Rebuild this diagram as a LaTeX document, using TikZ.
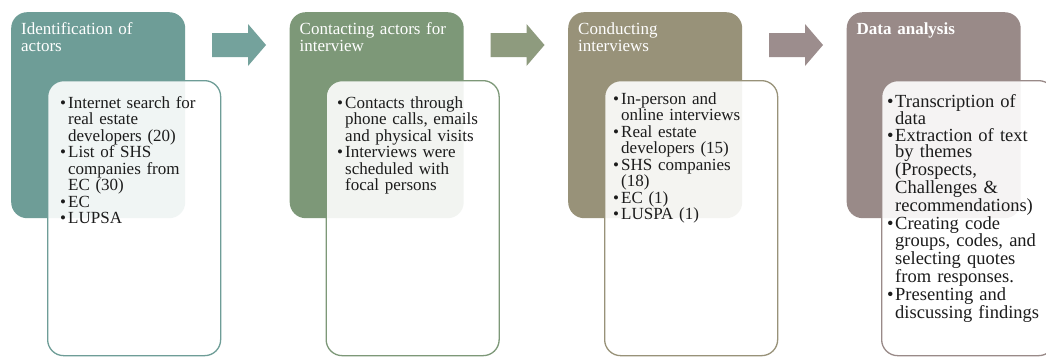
\documentclass[tikz,border=0pt]{standalone}
\usepackage{fontspec}
\setmainfont{Liberation Serif}
\definecolor{stageA}{RGB}{110,157,151}
\definecolor{stageB}{RGB}{125,152,120}
\definecolor{stageC}{RGB}{152,146,121}
\definecolor{stageD}{RGB}{153,138,136}
\definecolor{arrowA}{RGB}{116,162,156}
\definecolor{arrowB}{RGB}{142,155,126}
\definecolor{arrowC}{RGB}{156,141,141}
\definecolor{ink}{RGB}{28,28,28}
% bullet with hanging continuation lines
\newcommand\itm{\makebox[8pt][l]{\textbullet}}
\newcommand\nl{\\\hspace*{8pt}}
\begin{document}
\begin{tikzpicture}[x=1pt,y=-1pt,
  stage/.style={fill=#1, draw=none, rounded corners=16pt, inner sep=0pt,
    minimum width=174pt, minimum height=206pt, anchor=north west},
  detail/.style={draw=#1, line width=1.3pt, fill=white, fill opacity=0.9,
    rounded corners=16pt, inner sep=0pt,
    minimum width=173pt, minimum height=275pt, anchor=north west},
  title/.style={anchor=base west, text width=165pt, align=left, inner sep=0pt,
    text=white, font=\fontsize{17}{17}\selectfont},
  body/.style={anchor=base west, text width=168pt, align=left, inner sep=0pt,
    text=ink, font=\fontsize{17}{16.55}\selectfont},
]
\useasboundingbox (0,0) rectangle (1046,359);
\fill[white] (0,0) rectangle (1046,359);
\clip (0,0) rectangle (1046,359);

% block arrows between the stages
\foreach \dx/\col in {0/arrowA, 278.5/arrowB, 557/arrowC}{
  \fill[\col] (212+\dx,33) -- (248+\dx,33) -- (248+\dx,24) -- (266+\dx,45)
    -- (248+\dx,66) -- (248+\dx,57) -- (212+\dx,57) -- cycle;
}

% stage headers
\node[stage=stageA] (s1) at (11,12) {};
\node[stage=stageB] (s2) at (289.5,12) {};
\node[stage=stageC] (s3) at (568,12) {};
\node[stage=stageD] (s4) at (846.5,12) {};

\node[title] (t1) at (21,34) {Identification of\\actors};
\node[title] (t2) at (299.5,34) {Contacting actors for\\interview};
\node[title] (t3) at (578,34) {Conducting\\interviews};
\node[title] (t4) at (856.5,34) {\bfseries Data analysis};

% detail panels
\node[detail=stageA] (d1) at (47,80) {};
\node[detail=stageB] (d2) at (325.5,80) {};
\node[detail=stageC] (d3) at (604,80) {};
\node[detail=stageD] (d4) at (881,80) {};

\node[body] (b1) at (60,108) {\itm Internet search for\nl real estate\nl developers (20)\\
  \itm List of SHS\nl companies from\nl EC (30)\\
  \itm EC\\
  \itm LUPSA};
\node[body] (b2) at (337,108) {\itm Contacts through\nl phone calls, emails\nl and physical visits\\
  \itm Interviews were\nl scheduled with\nl focal persons};
\node[body] (b3) at (613,104) {\itm In-person and\nl online interviews\\
  \itm Real estate\nl developers (15)\\
  \itm SHS companies\nl (18)\\
  \itm EC (1)\\
  \itm LUSPA (1)};
\node[body, font=\fontsize{18.5}{16.55}\selectfont] (b4) at (887,107) {\itm Transcription of\nl data\\
  \itm Extraction of text\nl by themes\nl (Prospects,\nl Challenges \&\nl recommendations)\\
  \itm Creating code\nl groups, codes, and\nl selecting quotes\nl from responses.\\
  \itm Presenting and\nl discussing findings};
\end{tikzpicture}
\end{document}
